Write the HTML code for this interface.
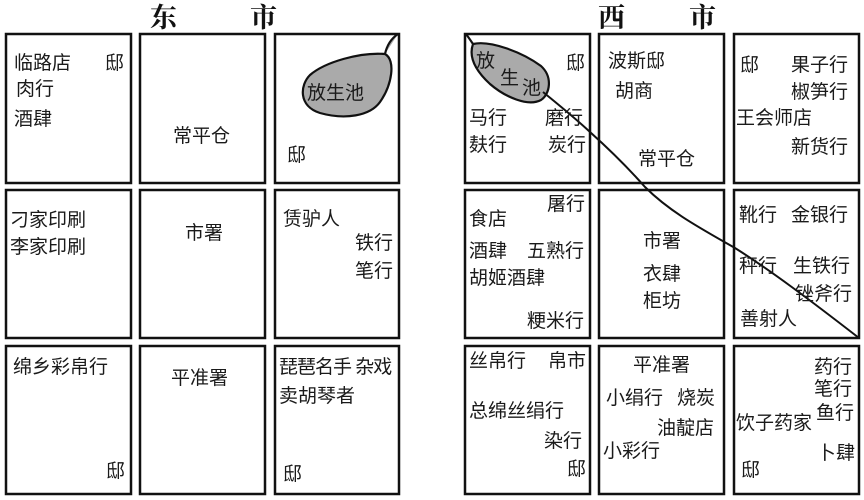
<!DOCTYPE html>
<html><head><meta charset="utf-8"><style>
html,body{margin:0;padding:0;background:#fff;}
svg{display:block;}
text{font-family:"Liberation Sans","Noto Sans CJK SC",sans-serif;font-size:19px;fill:#1a1a1a;}
.t{font-family:"Liberation Serif","Noto Serif CJK SC",serif;font-size:27px;font-weight:bold;fill:#111;}
rect{fill:none;stroke:#111;stroke-width:2.5;}
</style></head><body>
<svg width="864" height="500" viewBox="0 0 864 500">
<text class="t" x="150" y="27">东</text><text class="t" x="250" y="27">市</text>
<text class="t" x="598" y="27">西</text><text class="t" x="689" y="27">市</text>
<rect x="6" y="34" width="125" height="149"/><rect x="140" y="34" width="125" height="149"/><rect x="275" y="34" width="124" height="149"/>
<rect x="6" y="190" width="125" height="148"/><rect x="140" y="190" width="125" height="148"/><rect x="275" y="190" width="124" height="148"/>
<rect x="6" y="346" width="125" height="148"/><rect x="140" y="346" width="125" height="148"/><rect x="275" y="346" width="124" height="148"/>
<rect x="465" y="34" width="125" height="149"/><rect x="599" y="34" width="125" height="149"/><rect x="734" y="34" width="125" height="149"/>
<rect x="465" y="190" width="125" height="148"/><rect x="599" y="190" width="125" height="148"/><rect x="734" y="190" width="125" height="148"/>
<rect x="465" y="346" width="125" height="148"/><rect x="599" y="346" width="125" height="148"/><rect x="734" y="346" width="125" height="148"/>
<path d="M398,34 C392,38 387,45 385,54 C396,60 392,85 380,102 C370,116 345,120 320,113 C298,106 300,85 310,75 C325,62 360,52 385,54" fill="#aaa" stroke="#111" stroke-width="2.2"/>
<path d="M466,34 C469,38 471,41 473,44 C490,40 522,52 541,66 C553,77 550,94 541,100 C528,107 505,97 490,84 C477,72 468,58 473,44" fill="#aaa" stroke="#111" stroke-width="2.2"/>
<path d="M543,92 C560,106 575,118 590,132 C610,150 630,170 645,187 C670,212 700,228 735,248 C770,270 810,300 859,338" fill="none" stroke="#111" stroke-width="2"/>
<g>
<text x="14" y="69">临路店</text><text x="105" y="69">邸</text>
<text x="16" y="95">肉行</text><text x="14" y="125">酒肆</text>
<text x="173" y="142">常平仓</text>
<text x="307" y="99">放生池</text><text x="287" y="161">邸</text>
<text x="10" y="226">刁家印刷</text><text x="10" y="253">李家印刷</text>
<text x="185" y="239">市署</text>
<text x="283" y="225">赁驴人</text><text x="355" y="249">铁行</text><text x="355" y="277">笔行</text>
<text x="13" y="373">绵乡彩帛行</text><text x="171" y="384">平准署</text>
<text x="279" y="373" letter-spacing="-1">琵琶名手 杂戏</text><text x="279" y="402">卖胡琴者</text>
<text x="106" y="477">邸</text><text x="283" y="480">邸</text>

<text x="476" y="67">放</text><text x="500" y="84">生</text><text x="522" y="94">池</text>
<text x="566" y="69">邸</text>
<text x="469" y="124">马行</text><text x="545" y="124">磨行</text>
<text x="469" y="151">麸行</text><text x="548" y="151">炭行</text>
<text x="608" y="67">波斯邸</text><text x="615" y="97">胡商</text><text x="638" y="165">常平仓</text>
<text x="740" y="71">邸</text><text x="791" y="71">果子行</text><text x="791" y="98">椒笋行</text>
<text x="736" y="124">王会师店</text><text x="791" y="153">新货行</text>
<text x="547" y="210">屠行</text><text x="469" y="225">食店</text>
<text x="469" y="257">酒肆</text><text x="527" y="257">五熟行</text>
<text x="469" y="284">胡姬酒肆</text><text x="527" y="327">粳米行</text>
<text x="643" y="247">市署</text><text x="643" y="280">衣肆</text><text x="643" y="307">柜坊</text>
<text x="739" y="221">靴行</text><text x="791" y="221">金银行</text>
<text x="739" y="272">秤行</text><text x="793" y="272">生铁行</text>
<text x="795" y="300">锉斧行</text><text x="740" y="325">善射人</text>
<text x="469" y="367">丝帛行</text><text x="548" y="367">帛市</text>
<text x="469" y="417">总绵丝绢行</text><text x="544" y="447">染行</text><text x="567" y="475">邸</text>
<text x="633" y="371">平准署</text><text x="606" y="404">小绢行</text><text x="677" y="404">烧炭</text>
<text x="657" y="434">油靛店</text><text x="603" y="457">小彩行</text>
<text x="814" y="373">药行</text><text x="814" y="395">笔行</text><text x="816" y="419">鱼行</text>
<text x="736" y="429">饮子药家</text><text x="817" y="459">卜肆</text><text x="741" y="476">邸</text>
</g>
</svg>
</body></html>
